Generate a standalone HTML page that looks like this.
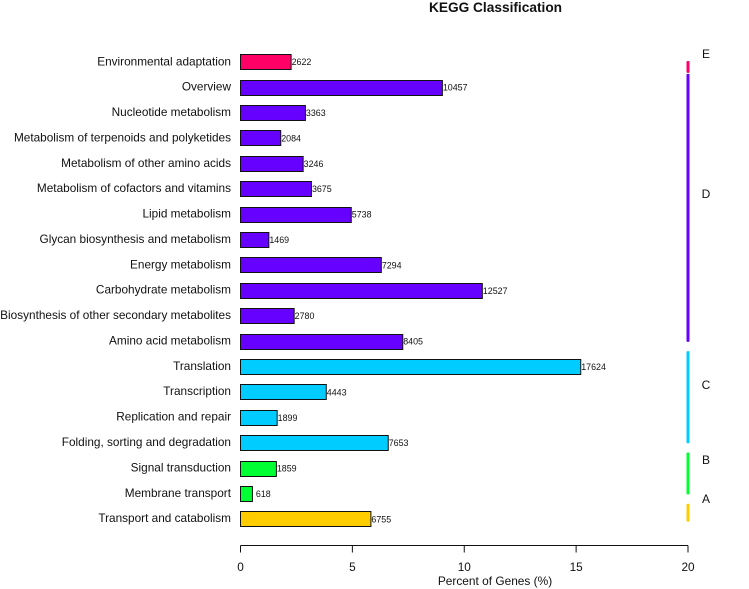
<!DOCTYPE html>
<html>
<head>
<meta charset="utf-8">
<style>
html,body{margin:0;padding:0;background:#fff;width:749px;height:589px;overflow:hidden}
svg{display:block}
text{font-family:"Liberation Sans",Arial,sans-serif;fill:#111}
</style>
</head>
<body>
<svg id="chart" width="749" height="589" viewBox="0 0 749 589" xmlns="http://www.w3.org/2000/svg">
<text x="495.5" y="12" font-size="13.7" font-weight="bold" text-anchor="middle">KEGG Classification</text>
<text x="495" y="585" font-size="11.9" text-anchor="middle">Percent of Genes (%)</text>
<text x="706" y="58" font-size="12" text-anchor="middle">E</text>
<text x="706" y="198" font-size="12" text-anchor="middle">D</text>
<text x="706" y="389" font-size="12" text-anchor="middle">C</text>
<text x="706" y="464" font-size="12" text-anchor="middle">B</text>
<text x="706" y="503" font-size="12" text-anchor="middle">A</text>
</svg>
<script>
const categories = ["Environmental adaptation","Overview","Nucleotide metabolism","Metabolism of terpenoids and polyketides","Metabolism of other amino acids","Metabolism of cofactors and vitamins","Lipid metabolism","Glycan biosynthesis and metabolism","Energy metabolism","Carbohydrate metabolism","Biosynthesis of other secondary metabolites","Amino acid metabolism","Translation","Transcription","Replication and repair","Folding, sorting and degradation","Signal transduction","Membrane transport","Transport and catabolism"];
const geneCounts = [2622,10457,3363,2084,3246,3675,5738,1469,7294,12527,2780,8405,17624,4443,1899,7653,1859,618,6755];
const barGroups = ["E","D","D","D","D","D","D","D","D","D","D","D","C","C","C","C","B","B","A"];
const totalGenes = 115900;
const xTicks = [0,5,10,15,20];
const groupNames = ["E","D","C","B","A"];
const groupSpans = [0.52,11.7,4.02,1.83,0.78];
const groupColors = {E:"#ff0066",D:"#6600ff",C:"#00ccff",B:"#00ff33",A:"#ffcc00"};

const NS = "http://www.w3.org/2000/svg";
const svg = document.getElementById("chart");
const xScale = v => 240.5 + v * 22.375;
const yScale = i => 61.7 + i * 25.4;
const spanScale = s => s * 22.9;
function make(tag, attrs, text){
  const el = document.createElementNS(NS, tag);
  for (const k in attrs) el.setAttribute(k, attrs[k]);
  if (text !== undefined) el.textContent = text;
  svg.appendChild(el);
  return el;
}
categories.forEach((name, i) => {
  const pct = geneCounts[i] / totalGenes * 100;
  const cy = yScale(i);
  const label = make("text", {x:231, y:cy + 3.6 - i * 0.02, "font-size":11.8, "text-anchor":"end"}, name);
  
  
  const bar = make("rect", {x:xScale(0), y:Math.round(cy - 7.5) + 0.5, width:xScale(pct) - xScale(0), height:15, fill:groupColors[barGroups[i]], stroke:"#111", "stroke-width":1});
  
  
  const value = make("text", {x:xScale(pct) + (geneCounts[i] < 1000 ? 3.5 : 0.5), y:cy + 3.5, "font-size":8.9}, geneCounts[i]);
  
  
});
const axisLine = make("line", {x1:xScale(xTicks[0]), x2:xScale(xTicks[xTicks.length - 1]), y1:545.5, y2:545.5, stroke:"#111", "stroke-width":1});


xTicks.forEach(t => {
  const tick = make("line", {x1:xScale(t), x2:xScale(t), y1:545.5, y2:552.5, stroke:"#111", "stroke-width":1});
  
  
  const tickLabel = make("text", {x:xScale(t), y:571, "font-size":11.8, "text-anchor":"middle"}, t);
  
  
});
let trackY = 61;
groupNames.forEach((g, i) => {
  const len = spanScale(groupSpans[i]);
  const seg = make("rect", {x:686.5, y:trackY, width:3, height:len, rx:1, fill:groupColors[g]});
  
  
  trackY += len + (i === 0 ? 1 : 9.3);
});
</script>
</body>
</html>
